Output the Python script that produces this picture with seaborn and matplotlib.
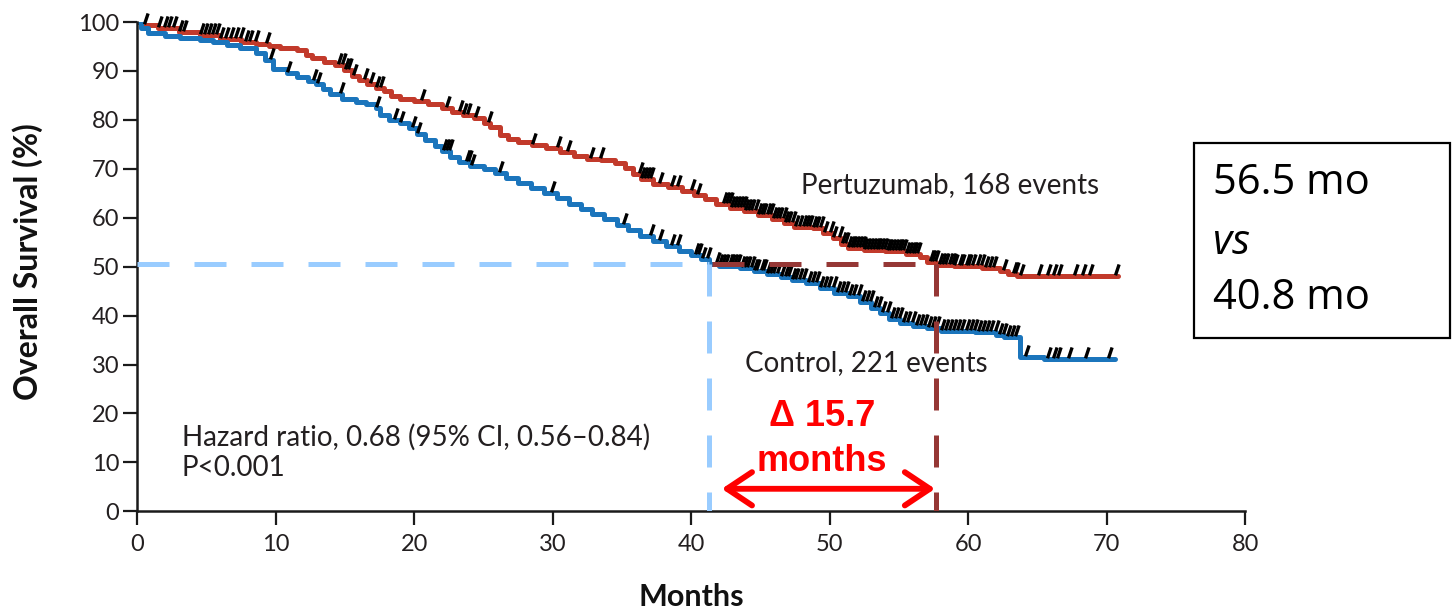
import numpy as np
import pandas as pd
import matplotlib
matplotlib.use("Agg")
import matplotlib.pyplot as plt
from matplotlib.path import Path
from matplotlib.patches import Rectangle
import seaborn as sns

# ---------------- data ----------------
pert_time = [0, 0.3, 1.5, 3.0, 4.5, 6.0, 7.5, 8.6, 9.5, 10.3, 11.5, 12.2, 12.6, 13.5, 14.3,
             14.9, 15.5, 16.0, 16.6, 17.2, 17.8, 18.3, 19.0, 20.0, 21.0, 22.0, 22.7, 23.5,
             24.3, 25.0, 25.5, 26.2, 26.8, 27.5, 28.5, 29.5, 30.5, 31.5, 32.5, 33.5, 34.5,
             35.2, 35.8, 36.4, 37.2, 38.3, 39.3, 40.2, 41.0, 41.8, 42.8, 43.8, 44.8, 45.8,
             46.7, 47.4, 48.8, 49.5, 50.2, 50.8, 51.3, 52.5, 54.0, 55.5, 56.5, 57.0, 57.7,
             59.0, 61.0, 62.3, 62.9, 63.5, 70.8]
pert_surv = [100, 99.3, 98.8, 97.9, 97.3, 96.6, 96.0, 95.5, 95.0, 94.6, 94.2, 93.3, 92.6, 91.9,
             91.2, 90.2, 89.0, 88.2, 87.4, 86.6, 85.8, 84.9, 84.3, 83.9, 83.3, 82.4, 81.7, 81.0,
             80.3, 79.3, 78.5, 77.0, 76.1, 75.4, 74.9, 74.2, 73.4, 72.6, 72.0, 71.7, 71.1, 70.2,
             69.0, 67.9, 66.9, 66.2, 65.5, 64.7, 63.8, 62.9, 62.0, 61.4, 60.6, 59.8, 59.0, 58.2,
             57.8, 56.9, 55.8, 54.6, 53.8, 53.5, 53.1, 52.6, 51.9, 51.0, 50.4, 50.1, 49.8, 49.2,
             48.4, 48.0, 48.0]

ctrl_time = [0, 0.3, 0.8, 2.0, 3.1, 4.5, 5.5, 6.5, 7.4, 8.6, 9.2, 9.8, 10.8, 11.5, 12.3, 12.9,
             13.4, 13.9, 14.8, 15.8, 16.5, 17.2, 17.5, 18.2, 19.0, 19.6, 20.2, 20.8, 21.5, 22.0,
             22.6, 23.2, 24.0, 25.0, 25.8, 26.6, 27.5, 28.4, 29.4, 30.3, 31.2, 32.0, 32.8, 33.7,
             34.6, 35.4, 36.3, 37.2, 38.2, 39.1, 40.0, 40.7, 41.3, 42.0, 43.5, 44.5, 45.5, 46.5,
             47.3, 48.3, 49.3, 50.3, 51.3, 52.2, 53.0, 53.6, 54.3, 55.1, 56.0, 57.0, 58.0, 60.5,
             62.0, 62.6, 63.7, 65.5, 70.6]
ctrl_surv = [100, 98.8, 97.7, 97.2, 96.7, 96.3, 96.0, 95.4, 94.6, 93.6, 92.3, 90.4, 89.6, 88.8,
             88.0, 87.3, 86.3, 85.2, 84.3, 83.6, 83.2, 82.4, 81.0, 80.0, 79.4, 78.4, 77.2, 75.8,
             74.6, 73.7, 72.4, 71.3, 70.6, 70.0, 69.2, 68.2, 67.1, 66.1, 65.0, 64.0, 62.8, 61.7,
             60.8, 59.8, 58.6, 57.4, 56.2, 55.2, 54.2, 53.3, 52.4, 51.6, 50.5, 50.1, 49.7, 49.1,
             48.4, 47.8, 47.2, 46.6, 45.6, 44.6, 43.9, 42.8, 41.6, 40.5, 39.4, 38.4, 37.8, 37.4,
             36.8, 36.6, 36.1, 35.6, 31.6, 31.2, 31.2]

pert_censor = [0.5, 1.5, 1.9, 2.2, 2.6, 3.0, 3.3, 4.5, 4.8, 5.1, 5.4, 5.7, 6.0, 6.3, 6.7, 7.05,
               7.4, 7.8, 8.1, 8.5, 9.3, 14.5, 14.8, 15.0, 15.2, 15.6, 16.4, 16.8, 17.2, 17.5,
               20.5, 22.3, 23.2, 23.5, 23.8, 24.4, 25.3, 28.5, 30.3, 31.0, 32.7, 33.4, 36.2,
               36.4, 36.6, 36.8, 37.0, 37.7, 38.5, 39.0, 40.0, 40.4, 42.3, 42.5, 42.7, 42.9,
               43.1, 43.3, 43.5, 43.7, 43.9, 44.1, 44.3, 44.6, 44.8, 45.0, 45.2, 45.5, 45.7,
               45.9, 46.1, 46.3, 46.6, 46.8, 47.0, 47.3, 47.5, 47.8, 48.1, 48.3, 48.5, 48.8,
               49.0, 49.3, 49.6, 50.0, 50.2, 50.7, 50.9, 51.1, 51.3, 51.5, 51.7, 51.9, 52.1,
               52.3, 52.5, 52.7, 52.9, 53.1, 53.3, 53.5, 53.7, 53.9, 54.1, 54.3, 54.5, 54.7,
               54.9, 55.1, 55.3, 55.5, 55.7, 55.9, 56.1, 56.3, 57.2, 57.4, 57.6, 57.9, 58.1,
               58.3, 58.6, 58.8, 59.0, 59.3, 59.5, 59.8, 60.0, 60.3, 60.6, 60.9, 61.2, 61.5,
               61.8, 62.5, 63.2, 63.4, 63.7, 65.0, 65.7, 66.1, 66.5, 67.6, 68.2, 68.7, 70.6]
ctrl_censor = [9.6, 10.8, 12.7, 12.95, 14.6, 17.2, 18.5, 19.0, 19.8, 20.2, 22.1, 22.3, 22.5,
               23.7, 23.9, 24.1, 26.1, 29.9, 35.1, 37.0, 37.7, 38.5, 39.0, 40.3, 40.5, 40.8,
               41.1, 41.8, 42.0, 42.2, 42.4, 42.7, 42.9, 43.1, 43.3, 43.6, 43.8, 44.0, 44.3,
               44.5, 44.7, 45.0, 45.2, 45.5, 45.7, 45.9, 46.2, 46.5, 46.8, 47.0, 47.3, 47.5,
               47.8, 48.1, 48.4, 48.7, 49.0, 49.3, 49.6, 49.9, 50.2, 50.5, 50.8, 51.1, 51.4,
               51.7, 52.0, 52.3, 52.6, 52.9, 53.2, 53.5, 53.8, 54.1, 54.4, 54.7, 55.0, 55.3,
               55.6, 55.9, 56.2, 56.5, 56.8, 57.1, 57.4, 57.7, 58.0, 58.3, 58.6, 58.9, 59.2,
               59.5, 59.8, 60.1, 60.4, 60.7, 61.0, 61.3, 61.6, 61.9, 62.2, 62.5, 62.8, 63.1,
               63.4, 64.1, 65.7, 66.1, 66.4, 67.2, 68.4, 70.1]

median_ctrl = 41.3      # where the light-blue guide drops
median_pert = 57.7      # where the dark-red guide drops
median_level = 50.5
arrow_y = 4.6
arrow_x = [42.2, 57.6]

x_ticks = [0, 10, 20, 30, 40, 50, 60, 70, 80]
y_ticks = [0, 10, 20, 30, 40, 50, 60, 70, 80, 90, 100]

label_pert = "Pertuzumab, 168 events"
label_ctrl = "Control, 221 events"
hr_text = "Hazard ratio, 0.68 (95% CI, 0.56–0.84)"
p_text = "P<0.001"
delta_text = ["Δ 15.7", "months"]
box_lines = ["56.5 mo", "vs", "40.8 mo"]

RED = "#c23a2b"
BLUE = "#1b75bc"
LIGHTBLUE = "#99ccff"
DARKRED = "#953735"
TXT = "#231f20"

# ---------------- figure ----------------
sns.set_theme(style="ticks")
plt.rcParams['font.family'] = ['Lato', 'DejaVu Sans']

W, H = 1452, 611
fig = plt.figure(figsize=(W / 100, H / 100), dpi=100)
x0, x1, y0, y1 = 137.3, 1245.3, 511.3, 22.0
ax = fig.add_axes([x0 / W, 1 - y0 / H, (x1 - x0) / W, (y0 - y1) / H])

curves = pd.concat([
    pd.DataFrame({"t": pert_time, "s": pert_surv, "arm": "Pertuzumab"}),
    pd.DataFrame({"t": ctrl_time, "s": ctrl_surv, "arm": "Control"}),
])
sns.lineplot(data=curves, x="t", y="s", hue="arm", palette={"Pertuzumab": RED, "Control": BLUE},
             estimator=None, sort=False, drawstyle="steps-post", linewidth=3.6,
             legend=False, ax=ax, zorder=2)


def step_value(times, surv, t):
    idx = np.searchsorted(np.asarray(times), np.asarray(t), side="right") - 1
    return np.asarray(surv)[idx]


cens = pd.concat([
    pd.DataFrame({"t": pert_censor, "s": step_value(pert_time, pert_surv, pert_censor)}),
    pd.DataFrame({"t": ctrl_censor, "s": step_value(ctrl_time, ctrl_surv, ctrl_censor)}),
])
tick_marker = Path([(0.0, 0.1), (0.3, 1.0)], [Path.MOVETO, Path.LINETO])
sns.scatterplot(data=cens, x="t", y="s", marker=tick_marker, s=300, color="black",
                edgecolor="black", linewidth=2.4, legend=False, ax=ax, zorder=3, clip_on=False)

# median guide lines
dash = (6.4, 5.0)
ax.plot([0, median_ctrl], [median_level, median_level], color=LIGHTBLUE, lw=3.6,
        dashes=dash, zorder=4, clip_on=False)
ax.plot([median_ctrl, median_ctrl], [median_level, 0], color=LIGHTBLUE, lw=3.6,
        dashes=dash, zorder=4)
ax.plot([median_ctrl + 0.2, median_pert], [median_level, median_level], color=DARKRED, lw=3.6,
        dashes=dash, zorder=4)
ax.plot([median_pert, median_pert], [median_level, 0], color=DARKRED, lw=3.6,
        dashes=dash, zorder=4)

# delta arrow
ax.annotate("", xy=(arrow_x[0], arrow_y), xytext=(arrow_x[1], arrow_y),
            arrowprops=dict(arrowstyle="<->,head_length=0.9,head_width=0.6", color="red",
                            lw=4.2, mutation_scale=20, shrinkA=0, shrinkB=0,
                            capstyle="round", joinstyle="round"), zorder=5)
ax.text(49.45, 19.3, delta_text[0], ha="center", va="center", fontsize=26, fontweight="bold",
        color="red", family=["Liberation Sans", "DejaVu Sans"])
ax.text(49.4, 10.1, delta_text[1], ha="center", va="center", fontsize=26, fontweight="bold",
        color="red", family=["Liberation Sans", "DejaVu Sans"])

# annotations
ax.text(47.9, 66.7, label_pert, ha="left", va="center", fontsize=20, color=TXT)
ax.text(43.9, 30.3, label_ctrl, ha="left", va="center", fontsize=20, color=TXT)
ax.text(3.2, 15.2, hr_text, ha="left", va="center", fontsize=20, color=TXT)
ax.text(3.2, 8.9, p_text, ha="left", va="center", fontsize=20, color=TXT)

# axes styling
ax.set_xlim(0, 80)
ax.set_ylim(0, 100)
ax.set_xticks(x_ticks)
ax.set_yticks(y_ticks)
ax.tick_params(axis="both", direction="out", length=10, width=1.6, color="#1a1a1a",
               labelsize=17, labelcolor=TXT)
ax.tick_params(axis="x", pad=6)
ax.tick_params(axis="y", pad=3)
sns.despine(ax=ax)
for sp in ("left", "bottom"):
    ax.spines[sp].set_linewidth(1.8)
    ax.spines[sp].set_color("#1a1a1a")
ax.set_xlabel("Months", fontsize=22, fontweight="bold", color="#111111")
ax.set_ylabel("Overall Survival (%)", fontsize=23, fontweight="bold", color="#111111")
ax.xaxis.set_label_coords(0.5, -0.1465)
ax.yaxis.set_label_coords(-0.085, 0.51)

# median box
fig.patches.append(Rectangle((1194 / W, 1 - 338 / H), (1450 - 1194) / W, (338 - 143) / H,
                             transform=fig.transFigure, fill=False, lw=1.6,
                             edgecolor="black"))
for txt, yc, style in zip(box_lines, [183, 243, 298], ["normal", "italic", "normal"]):
    fig.text(1213 / W, 1 - yc / H, txt, ha="left", va="center", fontsize=30, style=style,
             family=["Open Sans", "DejaVu Sans"], color="black")

fig.savefig("out.png", dpi=100)
